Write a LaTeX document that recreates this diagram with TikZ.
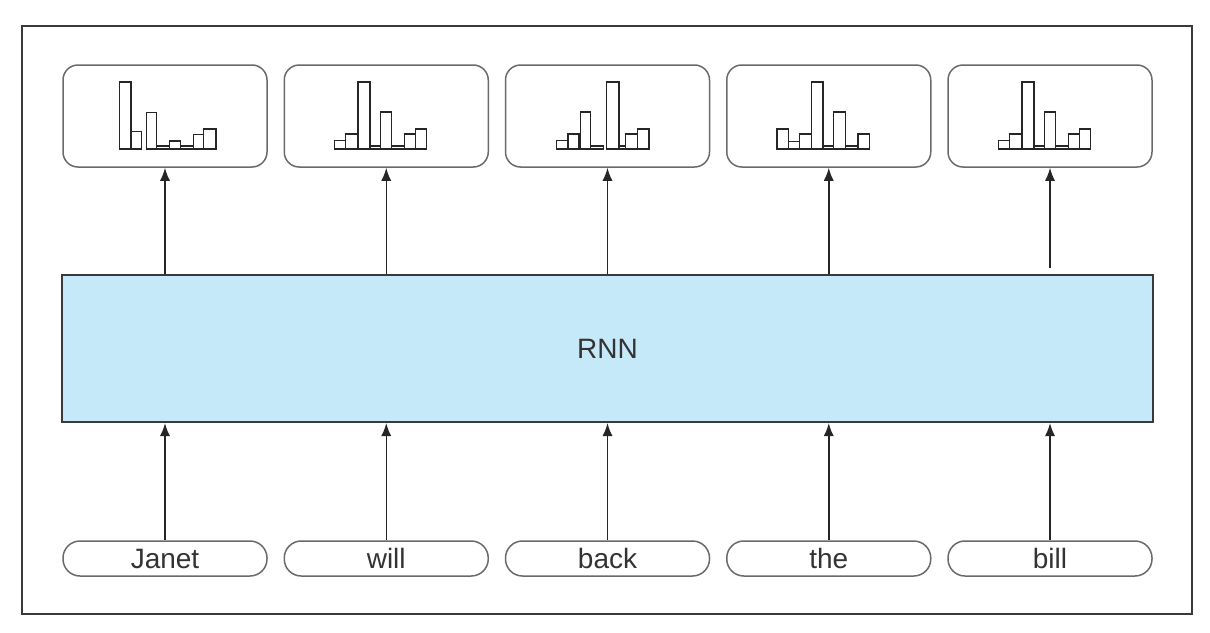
\documentclass[tikz,border=0pt]{standalone}
\usepackage{fontspec}
\setmainfont{Liberation Sans}
\usetikzlibrary{arrows.meta}
\definecolor{rnnfill}{HTML}{C6E9FA}
\definecolor{framec}{HTML}{3A3A3A}
\definecolor{boxc}{HTML}{6A6A6A}
\definecolor{textc}{HTML}{333333}
\newcommand\histo[2]{%
  \foreach \a/\b/\h in {#2}{\draw[bar] ({#1+\a},149) rectangle ({#1+\b},{149-\h});}}
\begin{document}
\begin{tikzpicture}[x=1pt,y=-1pt,
  outbox/.style={draw=boxc,line width=1.5pt,rounded corners=15pt,minimum width=204pt,minimum height=102pt,inner sep=0pt},
  wordpill/.style={draw=boxc,line width=1.5pt,rounded corners=17pt,minimum width=204pt,minimum height=35pt,inner sep=0pt,font=\fontsize{28}{30}\selectfont,text=textc},
  rnnbox/.style={draw=framec,fill=rnnfill,line width=2pt,minimum width=1091pt,minimum height=147pt,inner sep=0pt,font=\fontsize{28}{30}\selectfont,text=textc},
  conn/.style={draw=black!85,line width=1.5pt,-{Latex[length=13pt,width=10pt]}},
  bar/.style={draw=black!85,line width=1.4pt}]
\useasboundingbox (0,0) rectangle (1210,632);
\draw[framec,line width=2pt] (22,26) rectangle (1192,614);
% output boxes
\node[outbox] (o1) at (165,116) {};
\node[outbox] (o2) at (386.25,116) {};
\node[outbox] (o3) at (607.5,116) {};
\node[outbox] (o4) at (828.75,116) {};
\node[outbox] (o5) at (1050,116) {};
% RNN
\node[rnnbox] (rnn) at (607.5,348.5) {RNN};
% words
\node[wordpill] (w1) at (165,558.5) {Janet};
\node[wordpill] (w2) at (386.25,558.5) {will};
\node[wordpill] (w3) at (607.5,558.5) {back};
\node[wordpill] (w4) at (828.75,558.5) {the};
\node[wordpill] (w5) at (1050,558.5) {bill};
% histograms
\histo{165}{-45.7/-34/67, -34/-23.3/17.3, -18.3/-8.3/36.7, -8.3/4.3/3, 4.3/15.7/8, 15.7/28.3/3, 28.3/38.3/14.7, 38.3/51/20}
\histo{386.25}{-51.5/-40.5/8.3, -40.5/-28.2/15, -28.2/-16.2/67, -16.2/-5.5/3, -5.5/5.2/37, 5.2/18.5/3, 18.5/29.5/15, 29.5/40.2/20}
\histo{607.5}{-51/-39.7/8.3, -39.7/-28.7/15, -27/-17/37, -17/-4.3/3, -1/11.3/67, 11.3/18/3, 18/29.7/15, 29.7/41.3/20}
\histo{828.75}{-51.7/-40/20, -40/-29/7.3, -29/-17.3/15, -17.3/-5.7/67, -5.7/5/3, 5/17/37, 17/29.3/3, 29.3/41/15}
\histo{1050}{-51.5/-40.5/8.3, -40.5/-28.2/15, -28.2/-16.2/67, -16.2/-5.5/3, -5.5/5.2/37, 5.2/18.5/3, 18.5/29.5/15, 29.5/40.2/20}
% connectors
\foreach \i in {1,...,5}{\draw[conn] (w\i.north) -- (w\i.north |- rnn.south);}
\foreach \i in {1,...,4}{\draw[conn] (o\i.south |- rnn.north) -- (o\i.south);}
\coordinate (c5) at (1050,268);
\draw[conn] (c5) -- (o5.south);
\end{tikzpicture}
\end{document}
